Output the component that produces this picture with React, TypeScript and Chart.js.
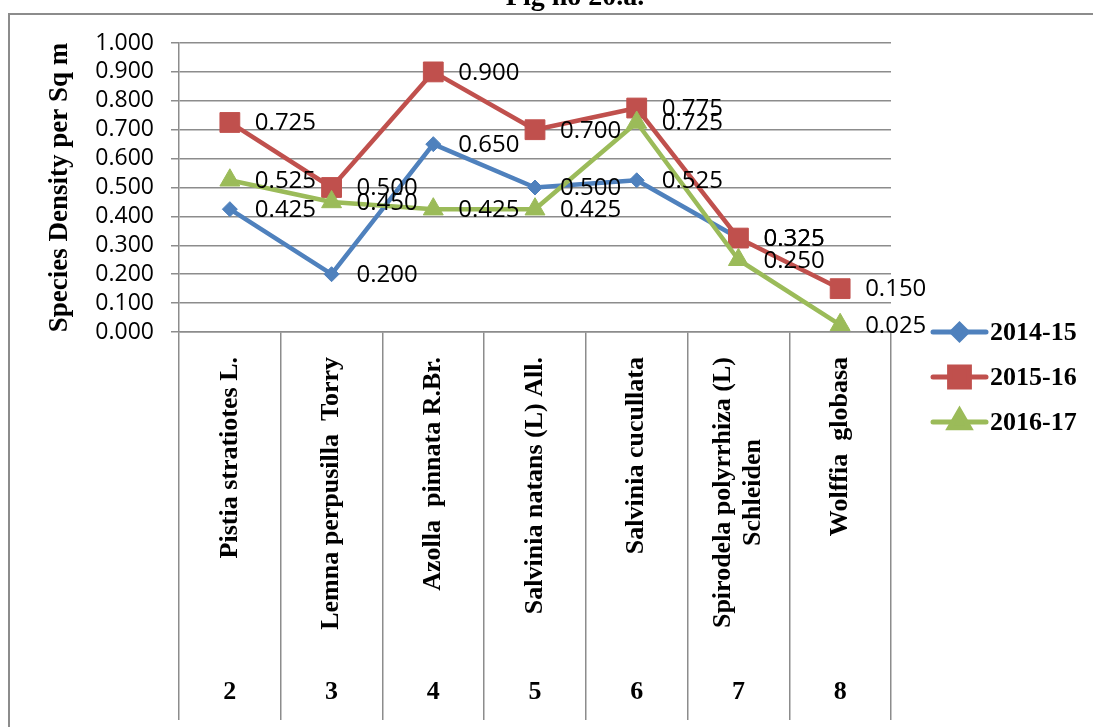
import React, { useEffect, useRef } from 'react';
import { Chart, registerables } from 'chart.js';
import { drawPoint } from 'chart.js/helpers';

Chart.register(...registerables);

const chartTitle = 'Fig no 20.a.';
const yAxisTitle = 'Species Density per Sq m';
const categories = [
  'Pistia stratiotes L.',
  'Lemna perpusilla  Torry',
  'Azolla  pinnata R.Br.',
  'Salvinia natans (L) All.',
  'Salvinia cucullata',
  'Spirodela polyrrhiza (L)\nSchleiden',
  'Wolffia  globasa',
];
const categoryNumbers = ['2', '3', '4', '5', '6', '7', '8'];
const seriesNames = ['2014-15', '2015-16', '2016-17'];
const values2014 = [0.425, 0.2, 0.65, 0.5, 0.525, 0.325, null];
const values2015 = [0.725, 0.5, 0.9, 0.7, 0.775, 0.325, 0.15];
const values2016 = [0.525, 0.45, 0.425, 0.425, 0.725, 0.25, 0.025];
const yMin = 0;
const yMax = 1;
const yStep = 0.1;

const BLUE = '#4F81BD';
const RED = '#C0504D';
const GREEN = '#9BBB59';
const GRID = '#8c8c8c';
const SERIF = '"Liberation Serif", "Times New Roman", serif';
const SANS = '"Open Sans", "Liberation Sans", sans-serif';

const decorPlugin = {
  id: 'decor',
  beforeDraw(chart: any) {
    const ctx = chart.ctx;
    ctx.save();
    ctx.fillStyle = '#ffffff';
    ctx.fillRect(0, 0, chart.width, chart.height);
    ctx.strokeStyle = GRID;
    ctx.lineWidth = 2;
    ctx.strokeRect(9, 14, 1300, 900);
    ctx.fillStyle = '#000';
    ctx.font = `bold 28px ${SERIF}`;
    ctx.textAlign = 'center';
    ctx.textBaseline = 'alphabetic';
    ctx.fillText(chartTitle, 575, 5);
    ctx.restore();
  },
  afterDraw(chart: any) {
    const ctx = chart.ctx;
    const xScale = chart.scales.x;
    const yScale = chart.scales.y;
    ctx.save();
    ctx.fillStyle = '#000';
    ctx.font = `bold 26px ${SERIF}`;
    categories.forEach((label, i) => {
      const x = xScale.getPixelForValue(i);
      const lines = label.split('\n');
      const maxW = Math.max(...lines.map((l) => ctx.measureText(l).width));
      const top = 357;
      ctx.save();
      ctx.translate(x, top + maxW / 2);
      ctx.rotate(-Math.PI / 2);
      ctx.textAlign = 'center';
      ctx.textBaseline = 'middle';
      const lh = 30;
      lines.forEach((l, k) => {
        ctx.fillText(l, 0, (k - (lines.length - 1) / 2) * lh);
      });
      ctx.restore();
    });
    ctx.font = `bold 26px ${SERIF}`;
    ctx.textAlign = 'center';
    ctx.textBaseline = 'middle';
    categoryNumbers.forEach((n, i) => {
      const x = xScale.getPixelForValue(i);
      ctx.fillText(n, x, 692);
    });
    ctx.font = `24px ${SANS}`;
    ctx.textAlign = 'left';
    ctx.textBaseline = 'middle';
    chart.data.datasets.forEach((ds: any) => {
      ds.data.forEach((v: number | null, i: number) => {
        if (v === null || v === undefined) return;
        const x = xScale.getPixelForValue(i);
        const y = yScale.getPixelForValue(v);
        ctx.fillText(v.toFixed(3), x + 25, y + 1);
      });
    });
    const legendYs = [332, 377, 422];
    chart.data.datasets.forEach((ds: any, i: number) => {
      const y = legendYs[i];
      ctx.strokeStyle = ds.borderColor;
      ctx.lineWidth = 5;
      ctx.lineCap = 'round';
      ctx.beginPath();
      ctx.moveTo(933, y);
      ctx.lineTo(986, y);
      ctx.stroke();
      ctx.fillStyle = ds.pointBackgroundColor;
      ctx.strokeStyle = ds.pointBorderColor;
      drawPoint(ctx, { pointStyle: ds.pointStyle, radius: ds.pointRadius, rotation: 0, borderWidth: 1 }, 959.5, y);
      ctx.fillStyle = '#000';
      ctx.font = `bold 26px ${SERIF}`;
      ctx.textAlign = 'left';
      ctx.textBaseline = 'middle';
      ctx.fillText(seriesNames[i], 990, y + 1);
    });
    ctx.restore();
  },
};

function makeDataset(label: string, data: (number | null)[], color: string, style: string, radius: number, order: number) {
  return {
    label,
    data,
    borderColor: color,
    backgroundColor: color,
    pointBackgroundColor: color,
    pointBorderColor: color,
    pointBorderWidth: 1,
    pointStyle: style,
    pointRadius: radius,
    borderWidth: 4.5,
    borderCapStyle: 'round',
    borderJoinStyle: 'round',
    tension: 0,
    spanGaps: false,
    order,
  };
}

export default function App() {
  const canvasRef = useRef<HTMLCanvasElement | null>(null);
  useEffect(() => {
    if (!canvasRef.current) return;
    const chart = new Chart(canvasRef.current, {
      type: 'line',
      data: {
        labels: categories,
        datasets: [
          makeDataset(seriesNames[0], values2014, BLUE, 'rectRot', 7.5, 3),
          makeDataset(seriesNames[1], values2015, RED, 'rect', 14, 2),
          makeDataset(seriesNames[2], values2016, GREEN, 'triangle', 11.5, 1),
        ] as any,
      },
      options: {
        responsive: false,
        animation: false,
        layout: { padding: { left: 8, top: 43, right: 202, bottom: 0 } },
        plugins: {
          legend: { display: false },
          tooltip: { enabled: false },
          title: { display: false },
        },
        scales: {
          x: {
            type: 'category',
            offset: true,
            ticks: { display: false },
            grid: {
              display: true,
              offset: true,
              drawOnChartArea: false,
              drawTicks: true,
              tickLength: 388,
              color: GRID,
              lineWidth: 1.5,
            },
            border: { display: true, color: GRID, width: 1.5 },
            afterFit: (scale: any) => {
              scale.height = 395;
            },
          },
          y: {
            min: yMin,
            max: yMax,
            ticks: {
              stepSize: yStep,
              autoSkip: false,
              maxTicksLimit: 20,
              color: '#000',
              font: { family: SANS, size: 23, lineHeight: 1 },
              padding: 17,
              callback: (v: any) => Number(v).toFixed(3),
            },
            grid: { color: GRID, lineWidth: 1.5, tickLength: 8 },
            border: { display: true, color: GRID, width: 1.5 },
            title: {
              display: true,
              text: yAxisTitle,
              color: '#000',
              font: { family: SERIF, size: 27, weight: 'bold' },
              padding: { top: 36, bottom: 0 },
            },
            afterFit: (scale: any) => {
              scale.width = 171;
            },
          },
        },
      },
      plugins: [decorPlugin],
    });
    return () => chart.destroy();
  }, []);
  return (
    <div style={{ position: 'fixed', left: 0, top: 0, width: 1093, height: 727, background: '#fff' }}>
      <canvas ref={canvasRef} width={1093} height={727} style={{ display: 'block' }} />
    </div>
  );
}
